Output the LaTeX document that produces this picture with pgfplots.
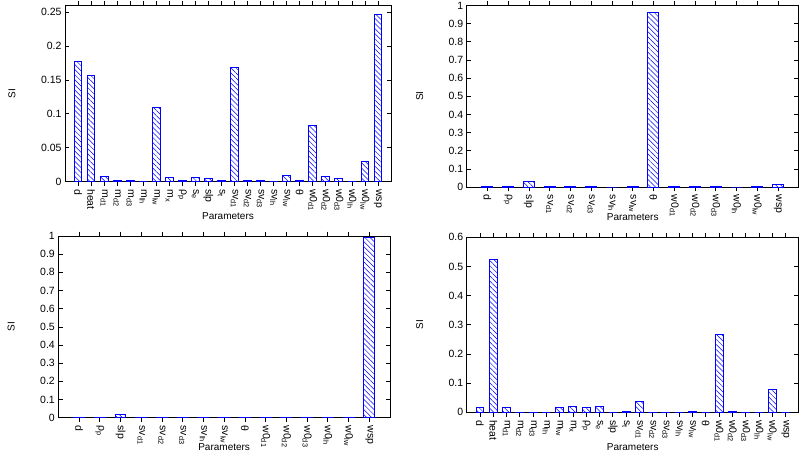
\documentclass[border=0pt]{standalone}
\usepackage{fontspec}
\setmainfont{Liberation Sans}
\usepackage{pgfplots}
\pgfplotsset{compat=1.18}
\usetikzlibrary{patterns.meta}

\newcommand{\sub}[1]{\textsubscript{#1}}
\newcommand{\labsA}{d,heat,m\sub{d1},m\sub{d2},m\sub{d3},m\sub{lh},m\sub{lw},m\sub{x},ρ\sub{p},s\sub{e},slp,s\sub{t},sv\sub{d1},sv\sub{d2},sv\sub{d3},sv\sub{lh},sv\sub{lw},θ,w0\sub{d1},w0\sub{d2},w0\sub{d3},w0\sub{lh},w0\sub{lw},wsp}
\newcommand{\labsB}{d,ρ\sub{p},slp,sv\sub{d1},sv\sub{d2},sv\sub{d3},sv\sub{lh},sv\sub{lw},θ,w0\sub{d1},w0\sub{d2},w0\sub{d3},w0\sub{lh},w0\sub{lw},wsp}

\pgfplotsset{
  siplot/.style={
    scale only axis,
    anchor=north west,
    ybar,
    ymin=0,
    axis line style={line width=0.8pt},
    tick style={line width=0.7pt, black},
    /pgf/number format/assume math mode=true,
    /pgf/number format/fixed,
    /pgf/number format/precision=2,
    tick label style={font=\fontsize{10.5}{12}\selectfont},
    label style={font=\fontsize{10.5}{12}\selectfont},
    xticklabel style={rotate=-90, anchor=west},
    xlabel={Parameters},
    ylabel={SI},
    every axis y label/.style={at={(axis description cs:0,0.5)}, anchor=center, xshift=-#1, rotate=90},
  },
  siplot/.default=47pt,
  xlab/.style={every axis x label/.style={at={(axis description cs:0.5,0)}, anchor=center, yshift=-#1}},
  many/.style={xmin=-1, xmax=24, xtick={0,...,23}, xticklabels/.expand once=\labsA, bar width=0.6},
  few/.style={xmin=-1, xmax=15, xtick={0,...,14}, xticklabels/.expand once=\labsB, bar width=0.53},
  sibar/.style={draw=blue, line width=1pt, pattern={Lines[angle=-45,distance=3.6pt,line width=0.5pt]}, pattern color=blue},
}

\begin{document}
\begin{tikzpicture}
\useasboundingbox (0,0) rectangle (800pt,-453pt);

% top left
\begin{axis}[siplot=53pt, many, xlab=35pt, at={(65pt,-5.5pt)}, width=326pt, height=176pt,
  ymax=0.26, ytick={0,0.05,0.1,0.15,0.2,0.25}]
\addplot[sibar] coordinates {(0,0.178) (1,0.156) (2,0.007) (3,0.001) (4,0.001) (5,0) (6,0.110) (7,0.006) (8,0.002) (9,0.006) (10,0.004) (11,0.001) (12,0.168) (13,0.001) (14,0.001) (15,0) (16,0.009) (17,0.001) (18,0.082) (19,0.008) (20,0.004) (21,0) (22,0.030) (23,0.246)};
\end{axis}

% top right
\begin{axis}[siplot=47pt, few, xlab=30pt, at={(466.7pt,-5.5pt)}, width=332pt, height=181.5pt,
  ymax=1, ytick={0,0.1,...,1}]
\addplot[sibar] coordinates {(0,0.001) (1,0.001) (2,0.028) (3,0.001) (4,0.001) (5,0.001) (6,0) (7,0.001) (8,0.960) (9,0.001) (10,0.001) (11,0.001) (12,0) (13,0.001) (14,0.015)};
\end{axis}

% bottom left
\begin{axis}[siplot=47pt, few, xlab=29pt, at={(58.3pt,-236pt)}, width=331.7pt, height=181.7pt,
  ymax=1, ytick={0,0.1,...,1}]
\addplot[sibar] coordinates {(0,0.002) (1,0.002) (2,0.015) (3,0.002) (4,0.002) (5,0.002) (6,0) (7,0.002) (8,0.003) (9,0.002) (10,0.002) (11,0.002) (12,0) (13,0.002) (14,0.990)};
\end{axis}

% bottom right
\begin{axis}[siplot=47pt, many, xlab=35pt, at={(466.7pt,-237.3pt)}, width=332pt, height=175pt,
  ymax=0.6, ytick={0,0.1,...,0.6}]
\addplot[sibar] coordinates {(0,0.018) (1,0.523) (2,0.015) (3,0.001) (4,0.001) (5,0) (6,0.015) (7,0.021) (8,0.018) (9,0.020) (10,0) (11,0.003) (12,0.038) (13,0.001) (14,0.001) (15,0) (16,0.004) (17,0) (18,0.266) (19,0.004) (20,0.001) (21,0) (22,0.079) (23,0)};
\end{axis}
\end{tikzpicture}
\end{document}
